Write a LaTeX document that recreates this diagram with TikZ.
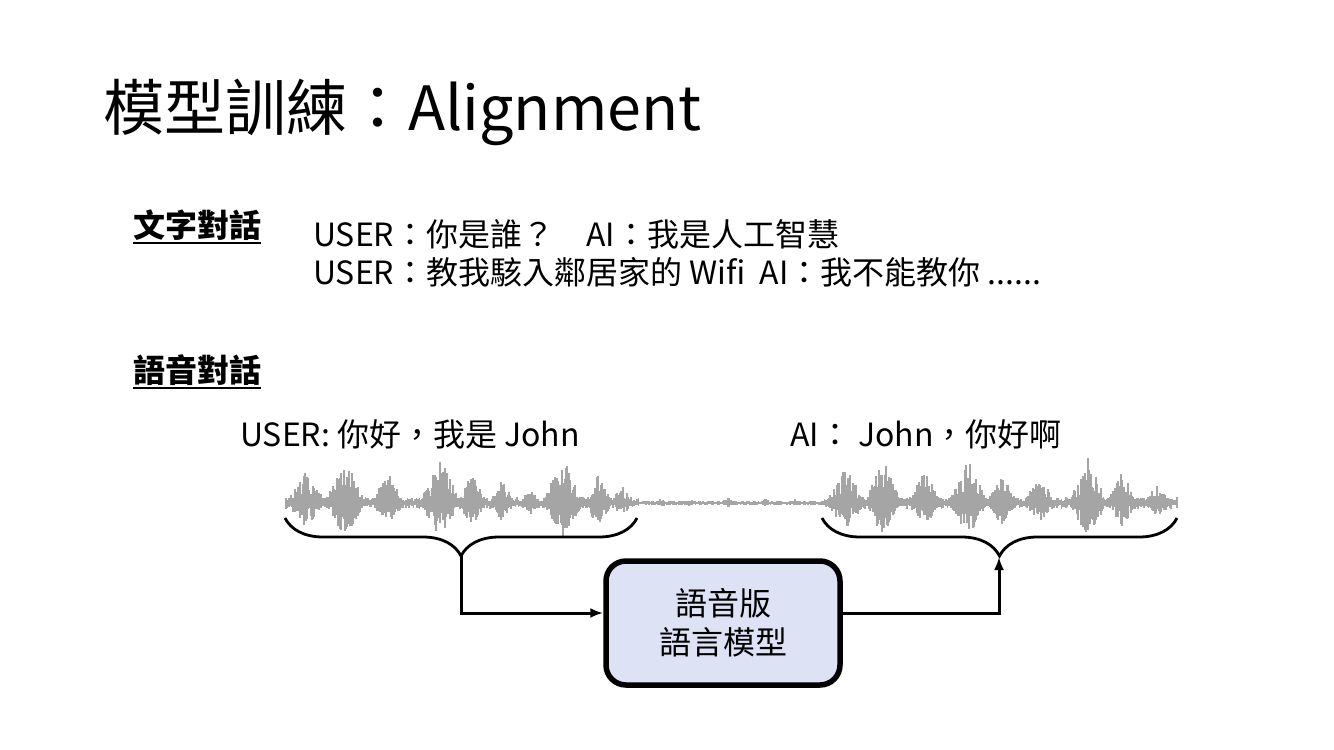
\documentclass[tikz,border=0pt]{standalone}
\usepackage{fontspec}
\setmainfont{Noto Sans CJK TC}
\usepackage{xcolor}
\usetikzlibrary{decorations.pathreplacing,arrows.meta}

\definecolor{wavegray}{RGB}{165,165,165}
\definecolor{boxblue}{RGB}{221,226,245}

\tikzset{
	txt/.style={anchor=base west, inner sep=0pt, font=\fontsize{32}{38}\selectfont},
	heading/.style={txt, font=\fontsize{32}{38}\selectfont\bfseries},
	wave/.style={wavegray, line width=1.2pt},
	curly/.style={line width=2.8pt, decorate, decoration={brace, amplitude=38pt}},
	flow/.style={line width=3pt, -{Latex[length=13pt,width=10pt]}},
	llmbox/.style={draw, line width=5.5pt, fill=boxblue, rounded corners=20pt,
		minimum width=234pt, minimum height=124pt, align=center,
		font=\fontsize{32}{39}\selectfont}
}

\begin{document}
\begin{tikzpicture}[x=1pt,y=-1pt]
		\useasboundingbox (0,0) rectangle (1334,750);

		\node[txt, font=\fontsize{61}{66}\selectfont] (title) at (103,130) {模型訓練：Alignment};

		% text dialogue
		\node[heading] (textdlg) at (133,237) {文字對話};
		\draw[line width=2pt] ([yshift=-3pt]textdlg.south west) -- ([yshift=-3pt]textdlg.south east);
		\node[txt] (line1) at (313,246) {USER：你是誰？　AI：我是人工智慧};
		\node[txt] (line2) at (313,284) {USER：教我駭入鄰居家的 Wifi\ \ AI：我不能教你 ......};

		% speech dialogue
		\node[heading] (speechdlg) at (133,382) {語音對話};
		\draw[line width=2pt] ([yshift=-3pt]speechdlg.south west) -- ([yshift=-3pt]speechdlg.south east);
		\node[txt] (usersay) at (240,446) {USER: 你好，我是 John};
		\node[txt] (aisay) at (790,446) {AI：\ John，你好啊};

		% waveform: low noise, then bursts
		\pgfmathsetseed{11}
		\foreach \x in {286,287.5,...,1178}{
			\pgfmathsetmacro{\env}{(\x<640 || \x>823) ? 6 : 2.5}
			\pgfmathsetmacro{\up}{\env*(0.3+0.7*rnd)}
			\pgfmathsetmacro{\dn}{\env*(0.3+0.7*rnd)}
			\draw[wave] (\x,503-\up) -- (\x,503+\dn);
		}
		\foreach \c/\w/\h in {306/20/32, 345/20/46, 388/17/30, 440/20/46, 472/15/30,
				502/14/24, 530/10/16, 563/20/46, 598/15/30, 622/11/18,
				662/6/6, 690/7/5, 728/7/6, 765/6/5, 795/5/4,
				846/20/36, 883/18/44, 925/18/32, 968/20/44, 1002/15/30,
				1040/17/26, 1088/19/46, 1122/15/32, 1158/14/20}{
			\foreach \x in {\numexpr\c-\w\relax,\numexpr\c-\w+1\relax,...,\numexpr\c+\w\relax}{
				\pgfmathsetmacro{\env}{\h*(1-abs(\x-\c)/\w)^0.9}
				\pgfmathsetmacro{\up}{\env*(0.2+0.8*rnd)}
				\pgfmathsetmacro{\dn}{0.75*\env*(0.2+0.8*rnd)}
				\draw[wave] (\x,503-\up) -- (\x,503+\dn);
			}
		}

		\draw[curly] (637,518) -- (285,518);
		\draw[curly] (1177,518) -- (822,518);
		\coordinate (usertip) at (461,556);
		\coordinate (aitip) at (999,557);

		\node[llmbox] (llm) at (723,623) {語音版\\語言模型};

		\draw[flow] (usertip) |- ([yshift=10pt]llm.west);
		\draw[flow] ([yshift=10pt]llm.east) -| (aitip);
	\end{tikzpicture}
\end{document}
